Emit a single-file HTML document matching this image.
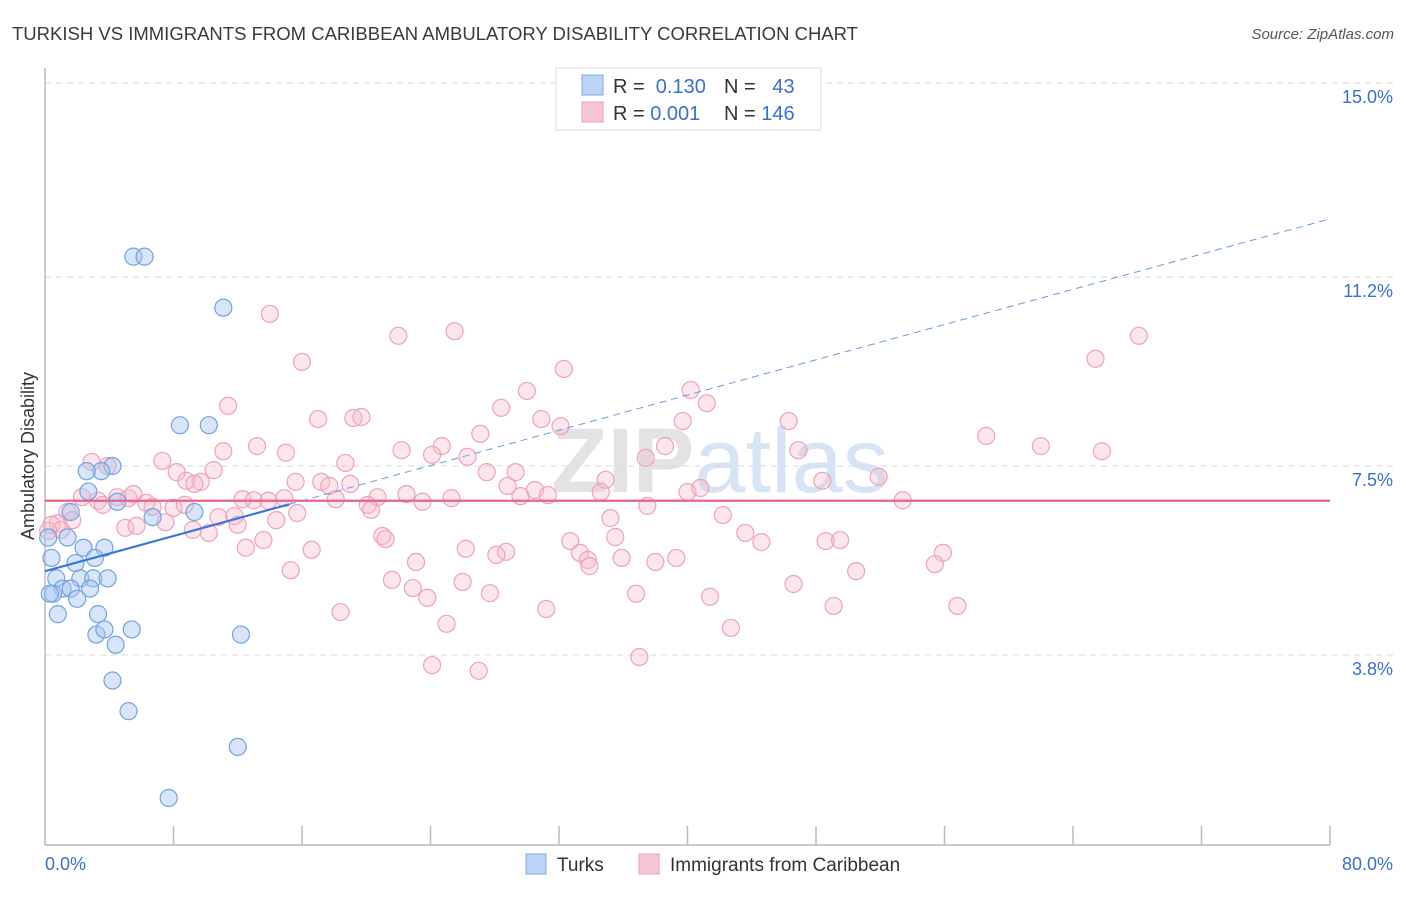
<!DOCTYPE html>
<html><head><meta charset="utf-8">
<style>
body{margin:0;background:#fff;font-family:"Liberation Sans",sans-serif;}
svg text{font-family:"Liberation Sans",sans-serif;}
</style></head>
<body>
<svg id="chart" width="1406" height="892" xmlns="http://www.w3.org/2000/svg">
<text x="12" y="40" font-size="18" fill="#3a3a3a" textLength="846" lengthAdjust="spacingAndGlyphs">TURKISH VS IMMIGRANTS FROM CARIBBEAN AMBULATORY DISABILITY CORRELATION CHART</text>
<text x="1394" y="39" font-size="15" fill="#555" text-anchor="end" font-style="italic">Source: ZipAtlas.com</text>
<text x="720" y="492" font-size="92" text-anchor="middle" fill="#e3e3e3" font-weight="bold">ZIP<tspan fill="#d6e4f5" font-weight="normal">atlas</tspan></text>
<g id="grid"></g>
<g id="axes"></g>
<g id="pinkpts"></g>
<g id="bluepts"></g>
<g id="trends"></g>
<text transform="translate(34,456) rotate(-90)" font-size="18" fill="#333" text-anchor="middle">Ambulatory Disability</text>
<g>
<rect x="556" y="68" width="265" height="62" fill="#fff" stroke="#ddd"/>
<rect x="582" y="75" width="21" height="20" fill="#bcd3f5" stroke="#7ea8e3"/>
<rect x="582" y="102" width="21" height="20" fill="#f8c5d4" stroke="#eea0b8"/>
<text x="613" y="93" font-size="20" fill="#333">R = <tspan fill="#3a6fd0">&#160;0.130</tspan></text>
<text x="724" y="93" font-size="20" fill="#333">N = <tspan fill="#3a6fd0">&#160;&#160;43</tspan></text>
<text x="613" y="120" font-size="20" fill="#333">R = <tspan fill="#3a6fd0">0.001</tspan></text>
<text x="724" y="120" font-size="20" fill="#333">N = <tspan fill="#3a6fd0">146</tspan></text>
</g>
<g>
<rect x="526" y="854" width="20" height="20" fill="#bcd3f5" stroke="#7ea8e3"/>
<text x="557" y="871" font-size="19" fill="#333">Turks</text>
<rect x="639" y="854" width="20" height="20" fill="#f8c5d4" stroke="#eea0b8"/>
<text x="670" y="871" font-size="19" fill="#333">Immigrants from Caribbean</text>
</g>
</svg>
<script>
const yTicks=[15.0,11.2,7.5,3.8];
const yTickLabels=["15.0%","11.2%","7.5%","3.8%"];
const xEnds=["0.0%","80.0%"];
const blueX=[5.5,6.2,11.1,8.4,10.2,4.2,3.5,2.6,2.7,4.5,1.6,6.7,9.3,1.4,2.4,3.7,3.1,0.4,1.9,0.7,2.2,3.0,3.9,1.1,1.6,2.8,0.5,2.0,0.8,3.3,3.2,3.7,5.4,12.2,4.4,4.2,5.2,12.0,7.7,0.2,0.3];
const blueY=[11.6,11.6,10.6,8.3,8.3,7.5,7.4,7.4,7.0,6.8,6.6,6.5,6.6,6.1,5.9,5.9,5.7,5.7,5.6,5.3,5.3,5.3,5.3,5.1,5.1,5.1,5.0,4.9,4.6,4.6,4.2,4.3,4.3,4.2,4.0,3.3,2.7,2.0,1.0,6.1,5.0];
const pinkX=[14.0,16.0,22.0,25.5,32.3,30.0,40.2,41.2,28.4,11.4,17.0,19.2,19.7,30.9,32.1,39.7,46.3,68.1,65.4,58.6,62.0,65.8,46.9,38.6,27.1,24.7,22.2,24.1,13.2,11.1,15.0,7.3,2.9,3.9,8.2,10.5,18.7,26.3,29.3,27.5,51.9,48.4,34.9,37.4,15.6,17.2,17.7,19.0,9.7,8.8,9.3,28.8,30.5,29.6,31.3,34.6,40.0,40.8,2.3,3.3,4.5,5.2,5.5,3.6,6.3,6.7,8.0,8.7,12.3,13.0,13.9,14.9,18.1,20.7,22.5,23.5,25.3,20.1,20.3,53.4,37.5,42.2,35.2,10.8,11.8,14.4,15.7,7.5,5.0,5.7,9.2,10.2,12.0,1.4,1.7,0.8,0.4,1.0,0.2,21.0,21.2,32.7,35.5,43.6,44.6,48.6,49.5,12.5,13.6,16.6,26.2,28.7,28.1,33.3,33.8,55.9,55.4,23.1,33.9,35.9,38.0,39.3,15.3,50.5,21.6,26.0,22.9,23.8,27.7,36.8,41.4,46.6,18.4,31.2,49.1,56.8,25.0,42.7,24.1,37.0,27.0];
const pinkY=[10.48,9.54,10.05,10.14,9.40,8.97,8.99,8.73,8.64,8.68,8.42,8.44,8.46,8.42,8.28,8.38,8.38,10.05,9.60,8.09,7.89,7.79,7.81,7.89,8.13,7.89,7.81,7.72,7.89,7.79,7.76,7.60,7.58,7.50,7.38,7.42,7.56,7.68,7.38,7.38,7.29,7.21,7.23,7.66,7.19,7.19,7.11,7.15,7.19,7.21,7.15,7.11,7.03,6.91,6.93,6.99,6.99,7.07,6.89,6.82,6.89,6.87,6.95,6.74,6.78,6.70,6.68,6.74,6.85,6.83,6.82,6.87,6.85,6.89,6.95,6.80,6.87,6.74,6.64,6.83,6.72,6.54,6.48,6.50,6.52,6.44,6.58,6.40,6.29,6.33,6.25,6.19,6.35,6.60,6.44,6.38,6.35,6.25,6.23,6.13,6.07,6.03,6.11,6.19,6.01,6.03,6.05,5.90,6.05,5.86,5.88,5.82,5.76,5.80,5.66,5.80,5.58,5.62,5.54,5.70,5.62,5.70,5.46,5.44,5.27,5.23,5.11,4.92,5.01,5.00,4.94,5.19,4.64,4.70,4.76,4.76,4.41,4.33,3.60,3.76,3.49];
const blueTrend=[5.44,12.34];
const blueSolidEnd=15.2;
const pinkTrend=[6.82,6.82];

const NS="http://www.w3.org/2000/svg";
const X0=45,X1=1330,Y15=83,PX=51.07;
function sx(v){return X0+(v/80)*(X1-X0);}
function sy(v){return Y15+(15-v)*PX;}
function mk(tag,attrs,parent){const e=document.createElementNS(NS,tag);for(const k in attrs)e.setAttribute(k,attrs[k]);parent.appendChild(e);return e;}
const grid=document.getElementById('grid'),axes=document.getElementById('axes');
yTicks.forEach((t,i)=>{
  const l=mk('line',{x1:X0,x2:1394,y1:sy(t),y2:sy(t),stroke:'#d8d8d8','stroke-dasharray':'6,5'},grid);
  
  
  const tx=mk('text',{x:1393,y:sy(t)+20,'font-size':18,fill:'#3a6fd0','text-anchor':'end'},grid);
  tx.textContent=yTickLabels[i];
  
  
});
const ya=mk('line',{x1:X0,x2:X0,y1:68,y2:845,stroke:'#bbb','stroke-width':1.5},axes);


const xa=mk('line',{x1:X0,x2:X1,y1:845,y2:845,stroke:'#bbb','stroke-width':1.5},axes);


for(let i=1;i<=10;i++){
  const t=mk('line',{x1:sx(i*8),x2:sx(i*8),y1:826,y2:845,stroke:'#bbb','stroke-width':1.5},axes);
  
  
}
const xl0=mk('text',{x:45,y:870,'font-size':18,fill:'#3a6fd0'},axes);
xl0.textContent=xEnds[0];


const xl1=mk('text',{x:1393,y:870,'font-size':18,fill:'#3a6fd0','text-anchor':'end'},axes);
xl1.textContent=xEnds[1];


const pg=document.getElementById('pinkpts');
pinkX.forEach((v,i)=>{
  const c=mk('circle',{cx:sx(v),cy:sy(pinkY[i]),r:8.5,fill:'rgba(246,182,202,0.35)',stroke:'#eea2ba','stroke-width':1.2},pg);
  
  
});
const bg=document.getElementById('bluepts');
blueX.forEach((v,i)=>{
  const c=mk('circle',{cx:sx(v),cy:sy(blueY[i]),r:8.5,fill:'rgba(168,198,240,0.45)',stroke:'#74a2e0','stroke-width':1.2},bg);
  
  
});
const tg=document.getElementById('trends');
const pl=mk('line',{x1:sx(0),x2:sx(80),y1:sy(pinkTrend[0]),y2:sy(pinkTrend[1]),stroke:'#e8648c','stroke-width':2.2},tg);


function by(x){return blueTrend[0]+(blueTrend[1]-blueTrend[0])*x/80;}
const bs=mk('line',{x1:sx(0),x2:sx(blueSolidEnd),y1:sy(by(0)),y2:sy(by(blueSolidEnd)),stroke:'#3a78d8','stroke-width':2.2},tg);


const bd=mk('line',{x1:sx(blueSolidEnd),x2:sx(80),y1:sy(by(blueSolidEnd)),y2:sy(by(80)),stroke:'#6a9be0','stroke-width':1,'stroke-dasharray':'7,5'},tg);


</script>
</body></html>
